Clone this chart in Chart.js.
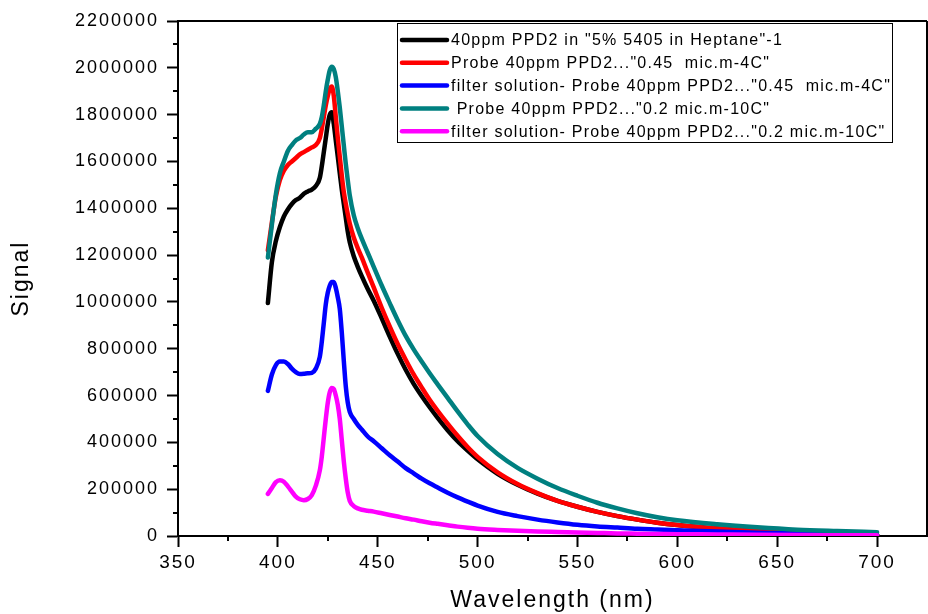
<!DOCTYPE html>
<html>
<head>
<meta charset="utf-8">
<script src="https://cdn.jsdelivr.net/npm/chart.js@4.4.1/dist/chart.umd.min.js"></script>
<style>
  html, body { margin: 0; padding: 0; background: #fff; }
  #wrap { width: 928px; height: 614px; }
</style>
</head>
<body>
<div id="wrap"><canvas id="c" width="928" height="614"></canvas></div>
<script>
// ---- data ----
const wavelengths = [395,397,399,401,403,405,407,409,411,413,415,417,419,421,
  422,423,424,425,426,427,428,429,430,431,432,433,434,435,436,
  438,440,442,445,448,452,456,460,464,468,472,476,480,485,490,495,500,
  510,520,530,540,550,560,570,580,590,600,620,640,660,680,700];

const seriesLabels = [
  '40ppm PPD2 in "5% 5405 in Heptane"-1',
  'Probe 40ppm PPD2..."0.45  mic.m-4C"',
  'filter solution- Probe 40ppm PPD2..."0.45  mic.m-4C"',
  ' Probe 40ppm PPD2..."0.2 mic.m-10C"',
  'filter solution- Probe 40ppm PPD2..."0.2 mic.m-10C"'
];

const blackVals = [995000,1170000,1260000,1320000,1365000,1395000,1418000,1435000,1445000,1462000,1472000,1480000,1495000,1530000,
  1580000,1640000,1700000,1760000,1800000,1810000,1760000,1690000,1620000,1550000,1480000,1420000,1360000,1300000,1255000,
  1195000,1150000,1110000,1055000,1005000,930000,852000,778000,710000,650000,598000,550000,505000,452000,405000,365000,328000,
  266000,219000,181000,150000,125000,103000,85000,70000,57000,47000,32000,21000,14000,9000,6000];

const redVals = [1220000,1340000,1450000,1520000,1560000,1585000,1600000,1615000,1630000,1640000,1650000,1660000,1670000,1700000,
  1740000,1790000,1840000,1880000,1910000,1920000,1880000,1790000,1700000,1620000,1540000,1470000,1420000,1375000,1335000,
  1275000,1230000,1190000,1125000,1062000,975000,895000,820000,753000,690000,635000,582000,535000,480000,428000,380000,338000,
  272000,222000,183000,150000,125000,103000,85000,70000,57000,47000,32000,21000,14000,9000,6000];

const blueVals = [620000,690000,730000,745000,745000,735000,715000,700000,692000,693000,695000,697000,715000,765000,
  830000,910000,990000,1040000,1070000,1085000,1085000,1060000,1020000,970000,870000,750000,640000,570000,530000,
  500000,475000,455000,425000,405000,375000,345000,318000,290000,268000,245000,225000,207000,185000,165000,147000,130000,
  103000,85000,70000,58000,48000,41000,36000,31000,28000,25000,19000,14000,11000,8000,6000];

const tealVals = [1190000,1330000,1460000,1550000,1600000,1645000,1670000,1690000,1700000,1715000,1725000,1725000,1740000,1760000,
  1790000,1840000,1900000,1950000,1990000,2005000,1995000,1960000,1900000,1830000,1750000,1670000,1590000,1520000,1455000,
  1370000,1315000,1270000,1210000,1150000,1070000,995000,922000,855000,797000,745000,695000,648000,590000,532000,477000,427000,
  350000,291000,245000,205000,172000,142000,118000,97000,80000,67000,50000,37000,27000,21000,16000];

const magentaVals = [180000,205000,230000,238000,232000,212000,190000,168000,157000,153000,158000,175000,215000,280000,
  340000,420000,500000,570000,615000,632000,628000,600000,560000,500000,410000,320000,245000,185000,150000,
  128000,118000,112000,108000,104000,97000,90000,83000,76000,70000,63000,57000,52000,46000,40000,35000,31000,
  26000,22000,19000,17000,15000,13000,11000,10000,9000,8000,6500,5000,4000,3500,3000];

const xTickStep = 50;
const yTickStep = 200000;
const xMinorTicks = [375,425,475,525,575,625,675];
const yMinorTicks = [100000,300000,500000,700000,900000,1100000,1300000,1500000,1700000,1900000,2100000];

// ---- build ----
const FONT = "'Liberation Sans', Arial, Helvetica, sans-serif";
const seriesValues = [blackVals, redVals, blueVals, tealVals, magentaVals];
const seriesColors = ['#000000', '#ff0000', '#0000ff', '#008080', '#ff00ff'];

const datasets = seriesValues.map((vals, i) => ({
  label: seriesLabels[i],
  data: wavelengths.map((w, j) => ({ x: w, y: vals[j] })),
  borderColor: seriesColors[i],
  backgroundColor: seriesColors[i],
  borderWidth: 4.5,
  pointRadius: 0,
  fill: false,
  cubicInterpolationMode: 'monotone',
  borderJoinStyle: 'round',
  borderCapStyle: 'round',
  order: seriesValues.length - i
}));

const spacingPlugin = {
  id: 'spacing',
  beforeDraw(chart) { chart.ctx.letterSpacing = '2px'; },
  afterDraw(chart) { chart.ctx.letterSpacing = '0px'; }
};

const framePlugin = {
  id: 'frame',
  afterDraw(chart) {
    const { ctx, chartArea: a, scales } = chart;
    ctx.save();
    ctx.strokeStyle = '#000';
    ctx.lineWidth = 2;
    ctx.beginPath();
    ctx.moveTo(a.left, a.top); ctx.lineTo(a.right, a.top);
    ctx.moveTo(a.right, a.top); ctx.lineTo(a.right, a.bottom);
    ctx.stroke();
    ctx.beginPath();
    xMinorTicks.forEach(v => {
      const px = Math.round(scales.x.getPixelForValue(v));
      ctx.moveTo(px, a.bottom); ctx.lineTo(px, a.bottom + 5);
    });
    yMinorTicks.forEach(v => {
      const py = Math.round(scales.y.getPixelForValue(v));
      ctx.moveTo(a.left, py); ctx.lineTo(a.left - 5, py);
    });
    ctx.stroke();
    ctx.restore();
  }
};

const legendPlugin = {
  id: 'boxLegend',
  afterDatasetsDraw(chart, args, opts) {
    const ctx = chart.ctx;
    ctx.save();
    ctx.letterSpacing = opts.spacing + 'px';
    ctx.fillStyle = '#fff';
    ctx.fillRect(opts.left, opts.top, opts.width, opts.height);
    ctx.strokeStyle = '#000';
    ctx.lineWidth = 1;
    ctx.strokeRect(opts.left + 0.5, opts.top + 0.5, opts.width, opts.height);
    ctx.font = opts.fontSize + 'px ' + FONT;
    ctx.textBaseline = 'middle';
    ctx.textAlign = 'left';
    chart.data.datasets.forEach((ds, i) => {
      const y = opts.firstRow + i * opts.rowHeight;
      ctx.strokeStyle = ds.borderColor;
      ctx.lineWidth = opts.sampleWidth;
      ctx.lineCap = 'round';
      ctx.beginPath();
      ctx.moveTo(opts.left + 5, y);
      ctx.lineTo(opts.left + 50, y);
      ctx.stroke();
      ctx.fillStyle = '#000';
      ctx.fillText(ds.label, opts.left + 54, y + 1);
    });
    ctx.restore();
  }
};

new Chart(document.getElementById('c'), {
  type: 'line',
  data: { datasets },
  options: {
    responsive: false,
    animation: false,
    devicePixelRatio: 1,
    layout: { padding: { left: 0, right: 1, top: 21, bottom: 0 } },
    plugins: {
      legend: { display: false },
      tooltip: { enabled: false },
      boxLegend: { left: 397, top: 23, width: 495, height: 119, firstRow: 40, rowHeight: 22.8,
                   fontSize: 16, spacing: 1.25, sampleWidth: 4.5 }
    },
    scales: {
      x: {
        type: 'linear',
        min: 350, max: 725,
        ticks: { stepSize: xTickStep, includeBounds: false, color: '#000',
                 font: { family: FONT, size: 19 }, padding: 4, maxRotation: 0 },
        grid: { drawOnChartArea: false, drawTicks: true, tickLength: 11, tickWidth: 2, tickColor: '#000' },
        border: { display: true, color: '#000', width: 2 },
        title: { display: true, text: 'Wavelength (nm)', color: '#000',
                 font: { family: FONT, size: 23 }, padding: 0 },
        afterFit(scale) { scale.height = 78; }
      },
      y: {
        type: 'linear',
        min: 0, max: 2200000,
        ticks: { stepSize: yTickStep, color: '#000', font: { family: FONT, size: 18 }, padding: 8,
                 callback: (v) => String(v) },
        grid: { drawOnChartArea: false, drawTicks: true, tickLength: 11, tickWidth: 2, tickColor: '#000' },
        border: { display: true, color: '#000', width: 2 },
        title: { display: true, text: 'Signal', color: '#000',
                 font: { family: FONT, size: 23 }, padding: { top: 8, bottom: 0 } },
        afterFit(scale) { scale.width = 178; }
      }
    }
  },
  plugins: [spacingPlugin, framePlugin, legendPlugin]
});
</script>
</body>
</html>
